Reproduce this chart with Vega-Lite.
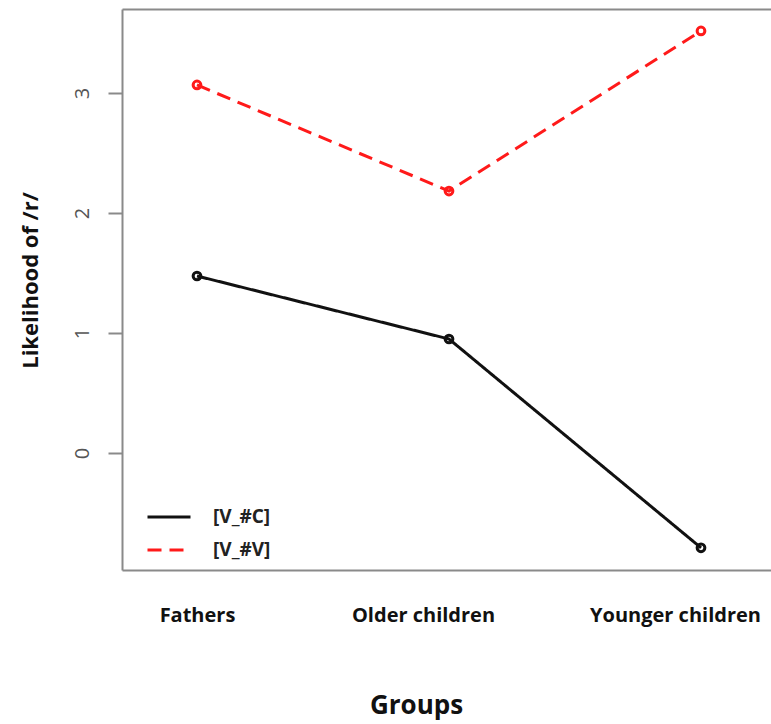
{
  "$schema": "https://vega.github.io/schema/vega-lite/v6.json",
  "autosize": {"type": "none"},
  "padding": {"left": 122, "top": 9, "right": 0, "bottom": 154},
  "width": 649,
  "height": 561,
  "background": "white",
  "config": {
    "view": {"stroke": null},
    "font": "Open Sans"
  },
  "data": {
    "values": [
      {"g": 1, "group": "Fathers", "series": "[V_#C]", "value": 1.475},
      {"g": 2, "group": "Older children", "series": "[V_#C]", "value": 0.95},
      {"g": 3, "group": "Younger children", "series": "[V_#C]", "value": -0.79},
      {"g": 1, "group": "Fathers", "series": "[V_#V]", "value": 3.067},
      {"g": 2, "group": "Older children", "series": "[V_#V]", "value": 2.183},
      {"g": 3, "group": "Younger children", "series": "[V_#V]", "value": 3.517}
    ]
  },
  "resolve": {"axis": {"x": "independent"}},
  "layer": [
    {
      "mark": {"type": "line", "strokeWidth": 3},
      "encoding": {
        "x": {
          "field": "g", "type": "quantitative",
          "scale": {"domain": [0.7024, 3.2778], "nice": false, "zero": false},
          "axis": {
            "orient": "bottom",
            "values": [1, 2, 3],
            "labelExpr": "datum.value == 1 ? 'Fathers' : datum.value == 2 ? 'Older children' : 'Younger children'",
            "labelOffset": {"condition": {"test": "datum.value > 1.5", "value": -26}, "value": 0},
            "ticks": false, "grid": false,
            "domainColor": "#8a8a8a", "domainWidth": 2,
            "labelFont": "Open Sans", "labelFontSize": 20, "labelFontWeight": "bold", "labelColor": "#111111",
            "labelPadding": 35, "labelBaseline": "top", "labelFlush": false, "labelOverlap": false,
            "title": "Groups", "titleFont": "Open Sans", "titleFontSize": 26, "titleFontWeight": "bold", "titleColor": "#111111",
            "titleBaseline": "middle", "titleY": 135, "titleX": 294
          }
        },
        "y": {
          "field": "value", "type": "quantitative",
          "scale": {"domain": [-0.975, 3.7], "nice": false, "zero": false},
          "axis": {
            "values": [0, 1, 2, 3],
            "format": "d",
            "grid": false,
            "tickSize": 14, "tickColor": "#8a8a8a", "tickWidth": 2,
            "domainColor": "#8a8a8a", "domainWidth": 2,
            "labelAngle": -90, "labelAlign": "center", "labelBaseline": "alphabetic",
            "labelPadding": 20, "labelFont": "Open Sans", "labelFontSize": 20, "labelColor": "#555555",
            "title": "Likelihood of /r/", "titleFont": "Open Sans", "titleFontSize": 22, "titleFontWeight": "bold", "titleColor": "#111111",
            "titleAngle": -90, "titleBaseline": "middle", "titleAlign": "center", "titleX": -92, "titleY": 271
          }
        },
        "color": {
          "field": "series", "type": "nominal",
          "scale": {"domain": ["[V_#C]", "[V_#V]"], "range": ["#111111", "#ff1a1a"]},
          "legend": {
            "orient": "none", "legendX": 24, "legendY": 485, "padding": 0,
            "title": null, "symbolType": "stroke", "symbolSize": 1849, "symbolStrokeWidth": 3,
            "rowPadding": -13, "labelOffset": 21,
            "labelFont": "Open Sans", "labelFontSize": 19, "labelFontWeight": "bold", "labelColor": "#222222"
          }
        },
        "strokeDash": {
          "field": "series", "type": "nominal",
          "scale": {"domain": ["[V_#C]", "[V_#V]"], "range": [[1, 0], [14, 8]]},
          "legend": {
            "orient": "none", "legendX": 24, "legendY": 485, "padding": 0,
            "title": null, "symbolType": "stroke", "symbolSize": 1849, "symbolStrokeWidth": 3,
            "rowPadding": -13, "labelOffset": 21,
            "labelFont": "Open Sans", "labelFontSize": 19, "labelFontWeight": "bold", "labelColor": "#222222"
          }
        }
      }
    },
    {
      "mark": {"type": "point", "shape": "circle", "filled": false, "strokeWidth": 3, "size": 60, "opacity": 1},
      "encoding": {
        "x": {
          "field": "g", "type": "quantitative",
          "axis": {"orient": "top", "labels": false, "ticks": false, "grid": false, "title": null,
                   "domainColor": "#8a8a8a", "domainWidth": 2}
        },
        "y": {"field": "value", "type": "quantitative"},
        "color": {"field": "series", "type": "nominal", "legend": null}
      }
    }
  ]
}
